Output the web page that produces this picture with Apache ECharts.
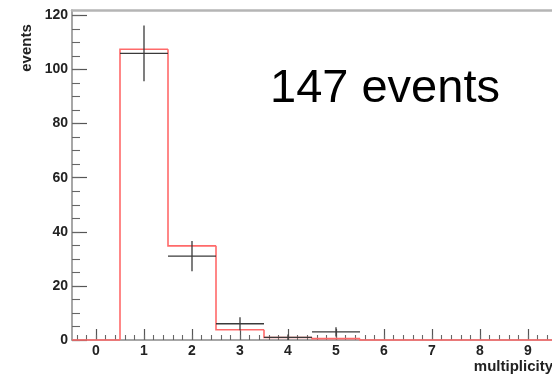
<!DOCTYPE html>
<html>
<head>
<meta charset="utf-8">
<script src="https://cdn.jsdelivr.net/npm/echarts@6/dist/echarts.min.js"></script>
<style>
  html, body { margin: 0; padding: 0; background: #fff; }
  #wrap { position: relative; width: 552px; height: 375px; overflow: hidden; }
  #chart, #note { position: absolute; left: 0; top: 0; width: 552px; height: 375px; }
  #chart { filter: blur(0.5px); }
</style>
</head>
<body>
<div id="wrap">
  <div id="chart"></div>
  <div id="note"></div>
</div>
<script>
// Multiplicity bins (bin centres)
const bins = [0, 1, 2, 3, 4, 5, 6, 7, 8, 9];
// Expected counts per bin (red outline)
const fitCounts = [0, 107.5, 34.8, 3.8, 0.9, 0.5, 0, 0, 0, 0];
// Measured counts per bin and their statistical errors (black crosses)
const dataCounts = [0, 106, 31, 6, 1, 3, 0, 0, 0, 0];
const dataErrors = [0, 10.3, 5.6, 2.4, 1.0, 1.7, 0, 0, 0, 0];
// Axis tick labels
const xTickValues = [0, 1, 2, 3, 4, 5, 6, 7, 8, 9];
const yTickValues = [0, 20, 40, 60, 80, 100, 120];
const totalLabel = '147 events';

const X_MIN = -0.5, X_MAX = 9.5, Y_MAX = 122;

// minor tick positions
const xMinor = [];
for (let k = -2; k <= 47; k++) xMinor.push(+(k * 0.2).toFixed(1));
const yMinor = [];
for (let k = 0; k <= 24; k++) yMinor.push(k * 5);

const labelFont = { fontFamily: 'Liberation Sans, Arial, sans-serif', fontWeight: 'bold', fontSize: 14, color: '#222' };

// histogram outline: each bin draws its riser from the previous bin and its top
const fitData = bins.map((b, i) => [b, fitCounts[i], i > 0 ? fitCounts[i - 1] : 0]);
// crosses only for non-empty bins
const crossData = bins.map((b, i) => [b, dataCounts[i], dataErrors[i]]).filter(d => d[1] > 0);

const chart = echarts.init(document.getElementById('chart'), null, { renderer: 'canvas' });
chart.setOption({
  animation: false,
  backgroundColor: '#fff',
  grid: { left: 72, top: 10, width: 490, height: 330, containLabel: false },
  xAxis: [
    {
      type: 'value', min: X_MIN, max: X_MAX, position: 'bottom',
      splitLine: { show: false },
      axisLine: { show: true, onZero: false, lineStyle: { color: '#8a8a8a', width: 1.5 } },
      axisTick: { show: true, inside: true, length: 11, customValues: xTickValues, lineStyle: { color: '#555', width: 1.2 } },
      axisLabel: Object.assign({ show: true, margin: 4, customValues: xTickValues }, labelFont)
    },
    {
      type: 'value', min: X_MIN, max: X_MAX, position: 'bottom',
      splitLine: { show: false },
      axisLine: { show: false, onZero: false },
      axisTick: { show: true, inside: true, length: 5, customValues: xMinor, lineStyle: { color: '#666', width: 1.1 } },
      axisLabel: { show: false }
    },
    {
      type: 'value', min: X_MIN, max: X_MAX, position: 'top',
      splitLine: { show: false },
      axisLine: { show: true, onZero: false, lineStyle: { color: '#b5b5b5', width: 2.5 } },
      axisTick: { show: false },
      axisLabel: { show: false }
    }
  ],
  yAxis: [
    {
      type: 'value', min: 0, max: Y_MAX, position: 'left',
      splitLine: { show: false },
      axisLine: { show: true, onZero: false, lineStyle: { color: '#8a8a8a', width: 1.5 } },
      axisTick: { show: true, inside: true, length: 15, customValues: yTickValues, lineStyle: { color: '#555', width: 1.2 } },
      axisLabel: Object.assign({ show: true, margin: 4, customValues: yTickValues }, labelFont)
    },
    {
      type: 'value', min: 0, max: Y_MAX, position: 'left',
      splitLine: { show: false },
      axisLine: { show: false, onZero: false },
      axisTick: { show: true, inside: true, length: 8, customValues: yMinor, lineStyle: { color: '#666', width: 1.1 } },
      axisLabel: { show: false }
    }
  ],
  graphic: [
    {
      type: 'text', x: 27, y: 48, rotation: Math.PI / 2,
      style: { text: 'events', font: 'bold 15px "Liberation Sans", Arial, sans-serif', fill: '#222', align: 'center', verticalAlign: 'middle' }
    },
    {
      type: 'text', x: 553, y: 367,
      style: { text: 'multiplicity', font: 'bold 15px "Liberation Sans", Arial, sans-serif', fill: '#222', align: 'right', verticalAlign: 'middle' }
    }
  ],
  series: [
    {
      type: 'custom', name: 'expected', xAxisIndex: 0, yAxisIndex: 0,
      data: fitData, clip: false, z: 3,
      renderItem: function (params, api) {
        const b = api.value(0), v = api.value(1), prev = api.value(2);
        const p0 = api.coord([b - 0.5, prev]);
        const p1 = api.coord([b - 0.5, v]);
        const p2 = api.coord([b + 0.5, v]);
        return {
          type: 'polyline',
          shape: { points: [p0, p1, p2] },
          style: { stroke: '#ff6a6a', lineWidth: 1.6, fill: null }
        };
      }
    },
    {
      type: 'custom', name: 'data', xAxisIndex: 0, yAxisIndex: 0,
      data: crossData, clip: false, z: 4,
      renderItem: function (params, api) {
        const b = api.value(0), v = api.value(1), e = api.value(2);
        const left = api.coord([b - 0.5, v]);
        const right = api.coord([b + 0.5, v]);
        const top = api.coord([b, v + e]);
        const bottom = api.coord([b, Math.max(0, v - e)]);
        const st = { stroke: '#3a3a3a', lineWidth: 1.3 };
        return {
          type: 'group',
          children: [
            { type: 'line', shape: { x1: left[0], y1: left[1], x2: right[0], y2: right[1] }, style: st },
            { type: 'line', shape: { x1: top[0], y1: top[1], x2: bottom[0], y2: bottom[1] }, style: st }
          ]
        };
      }
    }
  ]
});

// annotation with the event total
const note = echarts.init(document.getElementById('note'), null, { renderer: 'canvas' });
note.setOption({
  animation: false,
  graphic: [
    {
      type: 'text', x: 270, y: 89,
      style: { text: totalLabel, font: '47px "Liberation Sans", Arial, sans-serif', fill: '#000', align: 'left', verticalAlign: 'middle' }
    }
  ]
});
</script>
</body>
</html>
